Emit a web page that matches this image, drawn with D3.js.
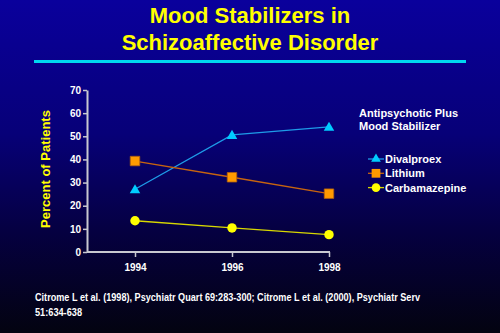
<!DOCTYPE html>
<html><head><meta charset="utf-8">
<script src="https://cdn.jsdelivr.net/npm/d3@7"></script>
<style>html,body{margin:0;padding:0;background:#000;}svg{display:block;}</style>
</head><body>
<script>
const years = [1994, 1996, 1998];
const divalproex = [27.1, 50.6, 54.1];
const lithium = [39.3, 32.3, 25.2];
const carbamazepine = [13.5, 10.4, 7.5];
const yTicks = [0, 10, 20, 30, 40, 50, 60, 70];
const seriesNames = ["Divalproex", "Lithium", "Carbamazepine"];
const titleLines = ["Mood Stabilizers in", "Schizoaffective Disorder"];
const legendTitle = ["Antipsychotic Plus", "Mood Stabilizer"];
const yLabel = "Percent of Patients";
const footer = ["Citrome L et al. (1998), Psychiatr Quart 69:283-300; Citrome L et al. (2000), Psychiatr Serv", "51:634-638"];

const W = 500, H = 333;
const svg = d3.select("body").append("svg").attr("width", W).attr("height", H);
const defs = svg.append("defs");
const grad = defs.append("linearGradient").attr("id", "bg").attr("x1", 0).attr("y1", 0).attr("x2", 0).attr("y2", 1);
grad.append("stop").attr("offset", "0%").attr("stop-color", "#0a009c");
grad.append("stop").attr("offset", "40%").attr("stop-color", "#070078");
grad.append("stop").attr("offset", "70%").attr("stop-color", "#050040");
grad.append("stop").attr("offset", "100%").attr("stop-color", "#030310");
svg.append("rect").attr("width", W).attr("height", H).attr("fill", "url(#bg)");

const font = "'Liberation Sans', Arial, sans-serif";
// Title
svg.selectAll("text.title").data(titleLines).join("text")
  .attr("x", 250).attr("y", (d, i) => 23 + i * 27)
  .attr("text-anchor", "middle").attr("fill", "#ffff00")
  .attr("font-family", font).attr("font-weight", "bold").attr("font-size", 22)
  .text(d => d);
svg.append("rect").attr("x", 34).attr("y", 60).attr("width", 432).attr("height", 3).attr("fill", "#00d8f0");

const x = d3.scalePoint().domain(years).range([135, 329]);
const y = d3.scaleLinear().domain([0, 70]).range([252, 90]);

// axes
const gy = svg.append("g").attr("transform", "translate(87,0)")
  .call(d3.axisLeft(y).tickValues(yTicks).tickSize(4).tickSizeOuter(0));
const gx = svg.append("g").attr("transform", "translate(0,252)")
  .call(d3.axisBottom(x).tickSize(5).tickSizeOuter(0));
gx.select(".domain").attr("d", "M87,0H330");
[gx, gy].forEach(g => {
  g.select(".domain").attr("stroke", "#c8c8d0").attr("stroke-width", 2);
  g.selectAll(".tick line").attr("stroke", "#c8c8d0").attr("stroke-width", 1.5);
  g.selectAll(".tick text").attr("fill", "#ffffff").attr("font-family", font)
    .attr("font-weight", "bold").attr("font-size", 10);
});
gy.selectAll(".tick text").attr("x", -6);
gx.selectAll(".tick text").attr("y", 12);

svg.append("text").attr("transform", "translate(50,169) rotate(-90)")
  .attr("text-anchor", "middle").attr("fill", "#ffff00")
  .attr("font-family", font).attr("font-weight", "bold").attr("font-size", 13)
  .text(yLabel);

const series = [
  {name: seriesNames[0], vals: divalproex, line: "#1e9be8", fill: "#00ccff", shape: d3.symbolTriangle, size: 48},
  {name: seriesNames[1], vals: lithium, line: "#c8640f", fill: "#ff9a00", shape: d3.symbolSquare, size: 90},
  {name: seriesNames[2], vals: carbamazepine, line: "#d8d800", fill: "#ffff00", shape: d3.symbolCircle, size: 70}
];
const line = d3.line().x(d => x(d[0])).y(d => y(d[1]));
series.forEach(s => {
  const pts = years.map((yr, i) => [yr, s.vals[i]]);
  svg.append("path").attr("d", line(pts)).attr("fill", "none").attr("stroke", s.line).attr("stroke-width", 1.3);
  svg.selectAll(null).data(pts).join("path")
    .attr("transform", d => `translate(${x(d[0])},${y(d[1]) + (s.shape === d3.symbolTriangle ? 1 : 0)})`)
    .attr("d", d3.symbol().type(s.shape).size(s.size))
    .attr("fill", s.fill).attr("stroke", s.shape === d3.symbolSquare ? "#b06010" : "none").attr("stroke-width", 0.8);
});

// Legend
svg.selectAll("text.lt").data(legendTitle).join("text")
  .attr("x", 359).attr("y", (d, i) => 117 + i * 13)
  .attr("fill", "#ffffff").attr("font-family", font).attr("font-weight", "bold").attr("font-size", 11)
  .text(d => d);
series.forEach((s, i) => {
  const cy = 159 + i * 14.3;
  svg.append("line").attr("x1", 368).attr("x2", 384).attr("y1", cy).attr("y2", cy).attr("stroke", s.line).attr("stroke-width", 1.3);
  svg.append("path").attr("transform", `translate(376,${cy})`)
    .attr("d", d3.symbol().type(s.shape).size(s.size * 0.85)).attr("fill", s.fill);
  svg.append("text").attr("x", 385).attr("y", cy + 4)
    .attr("fill", "#ffffff").attr("font-family", font).attr("font-weight", "bold").attr("font-size", 11)
    .text(s.name);
});

// Footer
svg.selectAll("text.ft").data(footer).join("text")
  .attr("x", 35).attr("y", (d, i) => 301 + i * 15)
  .attr("fill", "#ffffff").attr("font-family", font).attr("font-weight", "bold").attr("font-size", 10)
  .attr("textLength", (d, i) => i === 0 ? 385 : 47).attr("lengthAdjust", "spacingAndGlyphs")
  .text(d => d);
</script>
</body></html>
